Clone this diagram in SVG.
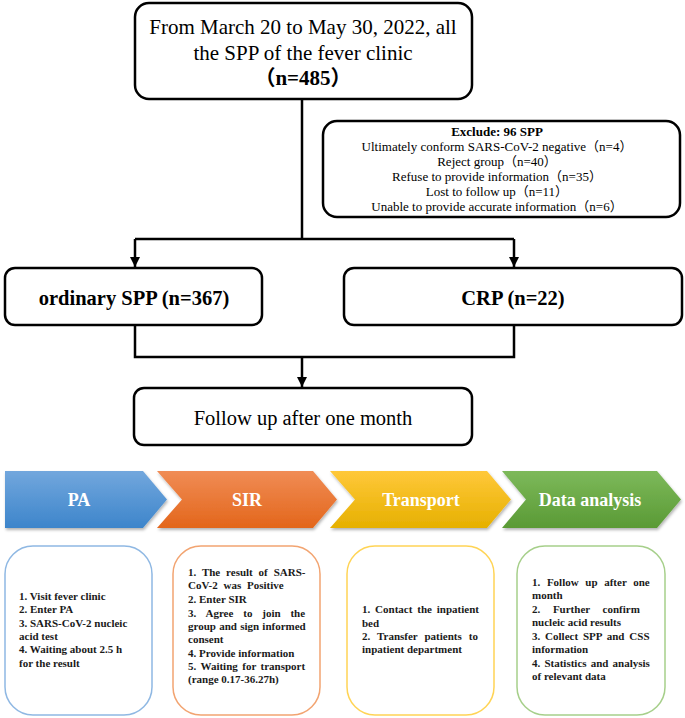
<svg xmlns="http://www.w3.org/2000/svg" width="685" height="718" viewBox="0 0 685 718">
<style>
  .box { fill: #ffffff; stroke: #000000; stroke-width: 2.5; }
  .line { fill: none; stroke: #000000; stroke-width: 2.5; }
  .t { font-family: "Liberation Serif", "Noto Sans CJK SC", serif; fill: #000000; }
  .big { font-size: 21px; text-anchor: middle; }
  .mid { font-size: 20.5px; text-anchor: middle; }
  .ex { font-size: 13px; text-anchor: middle; }
  .b { font-weight: bold; }
  .chev { font-family: "Liberation Serif", serif; font-size: 18px; font-weight: bold; fill: #ffffff; text-anchor: middle; }
  .step { font-family: "Liberation Serif", serif; font-size: 11px; font-weight: bold; fill: #1a1a1a; }
  .card { fill: #ffffff; stroke-width: 1.5; }
</style>
<defs>
  <marker id="arr" viewBox="0 0 10 10" refX="10" refY="5" markerWidth="4" markerHeight="4" orient="auto" markerUnits="strokeWidth">
    <path d="M0,0 L10,5 L0,10 z" fill="#000000"/>
  </marker>
  <linearGradient id="gBlue" x1="0" y1="0" x2="0" y2="1">
    <stop offset="0" stop-color="#72a7dd"/>
    <stop offset="1" stop-color="#3d85cb"/>
  </linearGradient>
  <linearGradient id="gOrange" x1="0" y1="0" x2="0" y2="1">
    <stop offset="0" stop-color="#f08c55"/>
    <stop offset="1" stop-color="#e3661b"/>
  </linearGradient>
  <linearGradient id="gYellow" x1="0" y1="0" x2="0" y2="1">
    <stop offset="0" stop-color="#ffc83a"/>
    <stop offset="1" stop-color="#e6b000"/>
  </linearGradient>
  <linearGradient id="gGreen" x1="0" y1="0" x2="0" y2="1">
    <stop offset="0" stop-color="#7db95a"/>
    <stop offset="1" stop-color="#5a9a35"/>
  </linearGradient>
  <filter id="shadow" x="-10%" y="-10%" width="120%" height="130%">
    <feDropShadow dx="1" dy="2" stdDeviation="1.5" flood-color="#000000" flood-opacity="0.3"/>
  </filter>
</defs>

<g id="connectors">
  <path class="line" d="M302,99 V239"/>
  <path class="line" d="M135,239 H514"/>
  <path class="line" d="M135,239 V267" marker-end="url(#arr)"/>
  <path class="line" d="M514,239 V267" marker-end="url(#arr)"/>
  <path class="line" d="M135,325 V357 H514 V325"/>
  <path class="line" d="M302,357 V387" marker-end="url(#arr)"/>
</g>

<g id="node-start">
  <rect class="box" x="135" y="3" width="337" height="96" rx="14"/>
  <text class="t big" x="303" y="34">From March 20 to May 30, 2022, all</text>
  <text class="t big" x="303" y="60">the SPP of the fever clinic</text>
  <text class="t big b" x="303" y="85">（n=485）</text>
</g>

<g id="node-exclude">
  <rect class="box" x="323" y="121" width="357" height="96" rx="14"/>
  <text class="t ex b" x="497" y="136">Exclude: 96 SPP</text>
  <text class="t ex" x="497" y="151">Ultimately  conform SARS-CoV-2 negative（n=4）</text>
  <text class="t ex" x="497" y="166">Reject group（n=40）</text>
  <text class="t ex" x="497" y="181">Refuse to provide information（n=35）</text>
  <text class="t ex" x="497" y="196">Lost to follow up（n=11）</text>
  <text class="t ex" x="497" y="211">Unable to provide accurate  information（n=6）</text>
</g>

<g id="node-ordinary">
  <rect class="box" x="5" y="268" width="257" height="57" rx="10"/>
  <text class="t mid b" x="134" y="305">ordinary SPP (n=367)</text>
</g>

<g id="node-crp">
  <rect class="box" x="344" y="268" width="338" height="57" rx="10"/>
  <text class="t mid b" x="513" y="305">CRP (n=22)</text>
</g>

<g id="node-followup">
  <rect class="box" x="134" y="388" width="338" height="57" rx="10"/>
  <text class="t mid" x="303" y="425">Follow up after one month</text>
</g>

<g id="chevron-pa">
  <polygon points="5,471 143,471 167,499.5 143,528 5,528" fill="url(#gBlue)" filter="url(#shadow)"/>
  <text class="chev" x="79" y="506">PA</text>
</g>
<g id="chevron-sir">
  <polygon points="157,471 313,471 337,499.5 313,528 157,528 182,499.5" fill="url(#gOrange)" filter="url(#shadow)"/>
  <text class="chev" x="247" y="506">SIR</text>
</g>
<g id="chevron-transport">
  <polygon points="330,471 487,471 511,499.5 487,528 330,528 355,499.5" fill="url(#gYellow)" filter="url(#shadow)"/>
  <text class="chev" x="421" y="506">Transport</text>
</g>
<g id="chevron-data">
  <polygon points="502,471 657,471 681,499.5 657,528 502,528 526,499.5" fill="url(#gGreen)" filter="url(#shadow)"/>
  <text class="chev" x="590" y="506">Data analysis</text>
</g>

<g id="card-pa">
  <rect class="card" x="5" y="546" width="147" height="169" rx="28" stroke="#8fb8e3"/>
  <text class="step" x="19" y="600">1. Visit fever clinic</text>
  <text class="step" x="19" y="613">2. Enter PA</text>
  <text class="step" x="19" y="627">3. SARS-CoV-2 nucleic</text>
  <text class="step" x="19" y="640">acid test</text>
  <text class="step" x="19" y="653">4. Waiting about 2.5 h</text>
  <text class="step" x="19" y="667">for the result</text>
</g>

<g id="card-sir">
  <rect class="card" x="173" y="546" width="147" height="169" rx="28" stroke="#f2a471"/>
  <text class="step" x="188" y="576" word-spacing="3.1">1. The result of SARS-</text>
  <text class="step" x="188" y="589" word-spacing="3">CoV-2 was Positive</text>
  <text class="step" x="188" y="603">2. Enter SIR</text>
  <text class="step" x="188" y="617" word-spacing="7.1">3. Agree to join the</text>
  <text class="step" x="188" y="630" word-spacing="0.5">group and sign informed</text>
  <text class="step" x="188" y="643">consent</text>
  <text class="step" x="188" y="657">4. Provide information</text>
  <text class="step" x="188" y="670" word-spacing="1.7">5. Waiting for transport</text>
  <text class="step" x="188" y="683">(range 0.17-36.27h)</text>
</g>

<g id="card-transport">
  <rect class="card" x="347" y="546" width="147" height="169" rx="28" stroke="#ffd455"/>
  <text class="step" x="362" y="613" word-spacing="2.1">1. Contact the inpatient</text>
  <text class="step" x="362" y="627">bed</text>
  <text class="step" x="362" y="640" word-spacing="4.2">2. Transfer patients to</text>
  <text class="step" x="362" y="653">inpatient department</text>
</g>

<g id="card-data">
  <rect class="card" x="517" y="546" width="148" height="169" rx="28" stroke="#a6cf8a"/>
  <text class="step" x="532" y="586" word-spacing="3.9">1. Follow up after one</text>
  <text class="step" x="532" y="599">month</text>
  <text class="step" x="532" y="613" word-spacing="9.9">2. Further confirm</text>
  <text class="step" x="532" y="626">nucleic acid results</text>
  <text class="step" x="532" y="640" word-spacing="2.1">3. Collect SPP and CSS</text>
  <text class="step" x="532" y="653">information</text>
  <text class="step" x="532" y="667" word-spacing="1.4">4. Statistics and analysis</text>
  <text class="step" x="532" y="680">of relevant data</text>
</g>
</svg>
